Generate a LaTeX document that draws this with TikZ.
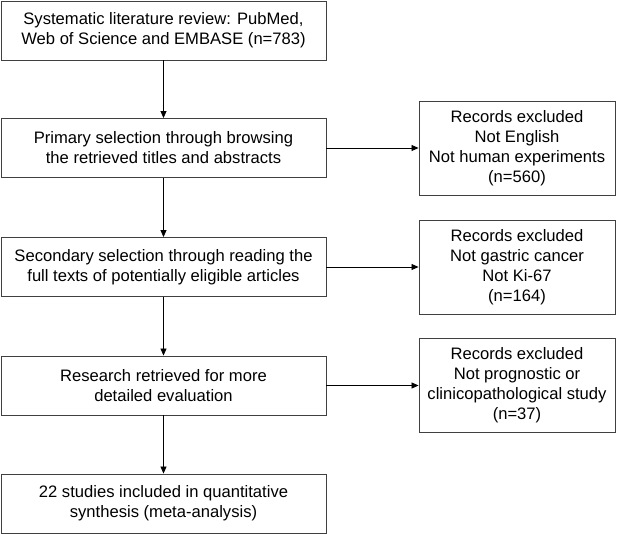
\documentclass[tikz,border=0pt]{standalone}
\usepackage{fontspec}
\setmainfont{Liberation Sans}
\usetikzlibrary{arrows.meta}
\begin{document}
\begin{tikzpicture}[x=1pt,y=-1pt,
  box/.style={draw=black!75,line width=0.9pt,fill=white,align=center,inner sep=0pt,
    font=\fontsize{16.6}{20}\selectfont},
  lbox/.style={box,minimum width=325pt,minimum height=59pt},
  rbox/.style={box,minimum width=196pt,minimum height=94pt},
  arr/.style={draw=black,line width=0.8pt,-{Triangle[length=7pt,width=6pt]}}]
\useasboundingbox (0,0) rectangle (621,534);
\node[lbox] (b1) at (163.5,30.5) {Systematic literature review: PubMed,\\Web of Science and EMBASE (n=783)};
\node[lbox] (b2) at (163.5,148) {Primary selection through browsing\\the retrieved titles and abstracts};
\node[lbox] (b3) at (163.5,267) {Secondary selection through reading the\\full texts of potentially eligible articles};
\node[lbox] (b4) at (163.5,385.5) {Research retrieved for more\\detailed evaluation};
\node[lbox] (b5) at (163.5,503.5) {22 studies included in quantitative\\synthesis (meta-analysis)};
\node[rbox] (r1) at (517,148) {Records excluded\\Not English\\Not human experiments\\(n=560)};
\node[rbox] (r2) at (517,267) {Records excluded\\Not gastric cancer\\Not Ki-67\\(n=164)};
\node[rbox] (r3) at (517,385.5) {Records excluded\\Not prognostic or\\clinicopathological study\\(n=37)};
\draw[arr] (b1) -- (b2);
\draw[arr] (b2) -- (b3);
\draw[arr] (b3) -- (b4);
\draw[arr] (b4) -- (b5);
\draw[arr] (b2) -- (r1);
\draw[arr] (b3) -- (r2);
\draw[arr] (b4) -- (r3);
\end{tikzpicture}
\end{document}
